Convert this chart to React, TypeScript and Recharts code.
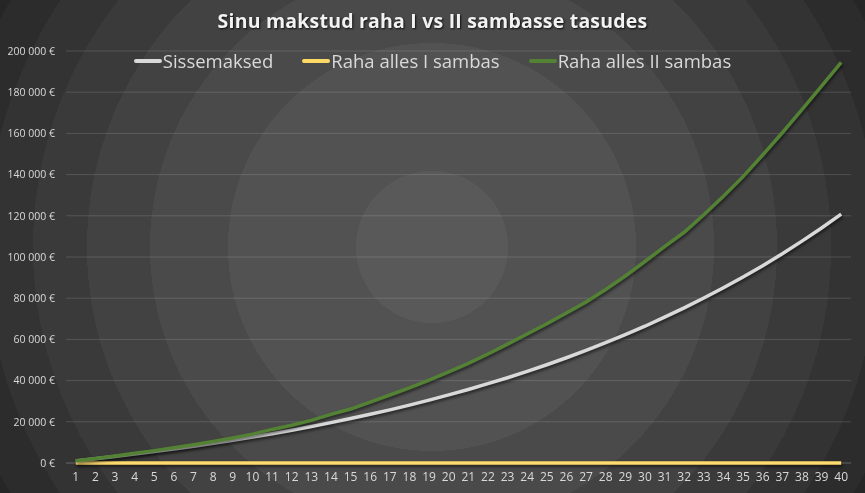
import React from "react";
import { LineChart, Line, XAxis, YAxis, CartesianGrid, Legend } from "recharts";

const years = [1, 2, 3, 4, 5, 6, 7, 8, 9, 10, 11, 12, 13, 14, 15, 16, 17, 18, 19, 20, 21, 22, 23, 24, 25, 26, 27, 28, 29, 30, 31, 32, 33, 34, 35, 36, 37, 38, 39, 40];

const sissemaksed = [1000, 2050, 3150, 4310, 5530, 6800, 8140, 9550, 11030, 12580, 14200, 15900, 17700, 19600, 21600, 23700, 25800, 28100, 30500, 33100, 35700, 38500, 41400, 44500, 47700, 51100, 54700, 58400, 62300, 66400, 70800, 75300, 80100, 85100, 90300, 95800, 101600, 107700, 114100, 120800];

const rahaI = [0, 0, 0, 0, 0, 0, 0, 0, 0, 0, 0, 0, 0, 0, 0, 0, 0, 0, 0, 0, 0, 0, 0, 0, 0, 0, 0, 0, 0, 0, 0, 0, 0, 0, 0, 0, 0, 0, 0, 0];

const rahaII = [1050, 2200, 3400, 4700, 6000, 7400, 8900, 10400, 12100, 14000, 16300, 18300, 20700, 23600, 26200, 29600, 33000, 36500, 40200, 44200, 48400, 52900, 57700, 62600, 67600, 72800, 78200, 84200, 90800, 97800, 105000, 112000, 120500, 129500, 139000, 149500, 160300, 171500, 183000, 194500];

const yTicks = [0, 20000, 40000, 60000, 80000, 100000, 120000, 140000, 160000, 180000, 200000];

const seriesNames = ["Sissemaksed", "Raha alles I sambas", "Raha alles II sambas"];
const seriesColors = ["#D9D9D9", "#FFD966", "#548235"];

const title = "Sinu makstud raha I vs II sambasse tasudes";

const data = years.map((y, i) => ({
  year: y,
  s: sissemaksed[i],
  r1: rahaI[i],
  r2: rahaII[i],
}));

const fmt = (v: number) => {
  const s = String(Math.round(v));
  return s.replace(/\B(?=(\d{3})+(?!\d))/g, " ") + " €";
};

const FONT = "'Open Sans', 'Noto Sans', sans-serif";

const LegendContent = () => (
  <div
    style={{
      display: "flex",
      justifyContent: "center",
      alignItems: "center",
      gap: 29,
      fontFamily: FONT,
      fontSize: 18.5,
      color: "#D9D9D9",
    }}
  >
    {seriesNames.map((n, i) => (
      <div key={n} style={{ display: "flex", alignItems: "center" }}>
        <span
          style={{
            display: "inline-block",
            width: 28,
            height: 4,
            borderRadius: 2,
            background: seriesColors[i],
            marginRight: 1,
          }}
        />
        <span>{n}</span>
      </div>
    ))}
  </div>
);

export default function App() {
  return (
    <div
      style={{
        position: "fixed",
        left: 0,
        top: 0,
        width: 865,
        height: 493,
        overflow: "hidden",
        background:
          "radial-gradient(circle at 432px 247px, #595959 0px, #595959 76px, #525252 76px, #525252 204px, #4a4a4a 204px, #4a4a4a 282px, #424242 282px, #424242 345px, #3a3a3a 345px, #3a3a3a 399px, #333333 399px, #333333 446px, #2c2c2c 446px, #2c2c2c 488px, #262626 488px)",
      }}
    >
      <style>{`.recharts-line-curve { filter: drop-shadow(1.5px 2px 1.5px rgba(0,0,0,0.55)); }`}</style>
      <div
        style={{
          position: "absolute",
          left: 0,
          top: 7,
          width: 865,
          textAlign: "center",
          fontFamily: FONT,
          fontWeight: 700,
          fontSize: 19.5,
          color: "#F2F2F2",
          textShadow: "1px 1px 2px rgba(0,0,0,0.8)",
          letterSpacing: 0.2,
        }}
      >
        {title}
      </div>
      <LineChart
        width={865}
        height={493}
        data={data}
        margin={{ top: 51, right: 14, bottom: 0, left: 0 }}
      >
        <CartesianGrid
          vertical={false}
          horizontal={true}
          stroke="rgba(255,255,255,0.14)"
          strokeWidth={1}
        />
        <XAxis
          dataKey="year"
          type="category"
          interval={0}
          scale="point"
          padding={{ left: 9.8, right: 9.8 }}
          height={30}
          axisLine={{ stroke: "rgba(255,255,255,0.14)" }}
          tickLine={false}
          tickSize={0}
          tickMargin={9}
          tick={{ fill: "#D9D9D9", fontSize: 12, fontFamily: FONT }}
        />
        <YAxis
          domain={[0, 200000]}
          ticks={yTicks}
          interval={0}
          width={66}
          axisLine={false}
          tickLine={false}
          tickSize={0}
          tickMargin={11}
          tickFormatter={fmt}
          tick={{ fill: "#D9D9D9", fontSize: 10.5, fontFamily: FONT }}
        />
        <Legend
          layout="horizontal"
          verticalAlign="middle"
          align="center"
          wrapperStyle={{ top: 48, left: 0, width: 865 }}
          content={<LegendContent />}
        />
        <Line
          dataKey="s"
          name={seriesNames[0]}
          stroke={seriesColors[0]}
          strokeWidth={3.5}
          dot={false}
          type="linear"
          isAnimationActive={false}
        />
        <Line
          dataKey="r1"
          name={seriesNames[1]}
          stroke={seriesColors[1]}
          strokeWidth={3.5}
          dot={false}
          type="linear"
          isAnimationActive={false}
        />
        <Line
          dataKey="r2"
          name={seriesNames[2]}
          stroke={seriesColors[2]}
          strokeWidth={3.5}
          dot={false}
          type="linear"
          isAnimationActive={false}
        />
      </LineChart>
    </div>
  );
}
